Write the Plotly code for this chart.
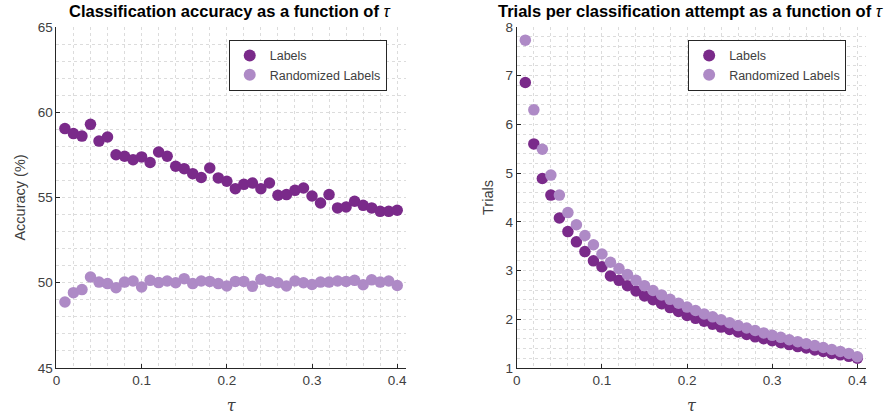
import plotly.graph_objects as go

tau = [round(0.01 * i, 2) for i in range(1, 41)]

acc_labels = [59.04, 58.75, 58.60, 59.29, 58.31, 58.55, 57.51, 57.42, 57.22, 57.38,
              57.05, 57.67, 57.42, 56.83, 56.69, 56.40, 56.17, 56.73, 56.15, 55.95,
              55.52, 55.77, 55.85, 55.52, 55.85, 55.13, 55.17, 55.42, 55.56, 55.09,
              54.68, 55.17, 54.39, 54.44, 54.78, 54.54, 54.39, 54.19, 54.19, 54.25]
acc_random = [48.87, 49.42, 49.60, 50.34, 50.04, 49.95, 49.71, 50.04, 50.10, 49.75,
              50.14, 50.01, 50.10, 50.00, 50.24, 49.95, 50.10, 50.08, 49.95, 49.81,
              50.08, 50.08, 49.79, 50.20, 50.08, 50.00, 49.81, 50.10, 50.00, 49.90,
              50.04, 50.04, 50.10, 50.08, 50.14, 49.89, 50.17, 50.04, 50.10, 49.84]

trials_labels = [6.86, 5.60, 4.89, 4.55, 4.08, 3.80, 3.59, 3.39, 3.20, 3.08,
                 2.89, 2.80, 2.69, 2.58, 2.48, 2.40, 2.32, 2.24, 2.16, 2.08,
                 2.02, 1.96, 1.90, 1.84, 1.79, 1.74, 1.69, 1.64, 1.60, 1.56,
                 1.52, 1.48, 1.44, 1.41, 1.37, 1.34, 1.30, 1.27, 1.24, 1.20]
trials_random = [7.73, 6.30, 5.49, 4.96, 4.55, 4.19, 3.94, 3.72, 3.53, 3.34,
                 3.17, 3.04, 2.92, 2.80, 2.69, 2.59, 2.50, 2.41, 2.33, 2.25,
                 2.18, 2.11, 2.05, 1.99, 1.93, 1.87, 1.82, 1.77, 1.72, 1.67,
                 1.63, 1.58, 1.54, 1.50, 1.46, 1.42, 1.38, 1.34, 1.30, 1.23]

names = ["Labels", "Randomized Labels"]
x_ticks = [0, 0.1, 0.2, 0.3, 0.4]
x_tick_text = ["0", "0.1", "0.2", "0.3", "0.4"]

DARK = "#7A2A8A"
LIGHT = "#AE8AC6"
FONT = "Liberation Sans, Arial, sans-serif"
TXT = "#404040"
GRID = "#dcdcdc"
AX = "#262626"
TAU = "<i>τ</i>"

fig = go.Figure()
fig.add_trace(go.Scatter(x=tau, y=acc_labels, mode="markers", name=names[0],
                         marker=dict(color=DARK, size=11.5), xaxis="x", yaxis="y", legend="legend"))
fig.add_trace(go.Scatter(x=tau, y=acc_random, mode="markers", name=names[1],
                         marker=dict(color=LIGHT, size=11.5), xaxis="x", yaxis="y", legend="legend"))
fig.add_trace(go.Scatter(x=tau, y=trials_labels, mode="markers", name=names[0],
                         marker=dict(color=DARK, size=11.5), xaxis="x2", yaxis="y2", legend="legend2"))
fig.add_trace(go.Scatter(x=tau, y=trials_random, mode="markers", name=names[1],
                         marker=dict(color=LIGHT, size=11.5), xaxis="x2", yaxis="y2", legend="legend2"))

def xax(domain, anchor):
    return dict(domain=domain, anchor=anchor, range=[0, 0.41], tickvals=x_ticks, ticktext=x_tick_text,
                showline=True, linecolor=AX, linewidth=1, ticks="inside", ticklen=4, tickcolor=AX,
                showgrid=True, gridcolor=GRID, griddash="dot", gridwidth=1, zeroline=False,
                minor=dict(dtick=0.02, tick0=0, showgrid=True, gridcolor=GRID, griddash="dot", gridwidth=1),
                tickfont=dict(size=13.5, color=TXT, family=FONT),
                title=dict(text=TAU, font=dict(size=16, color=TXT, family="DejaVu Serif, serif"), standoff=12))

def yax(rng, dtick, mdtick, anchor, title):
    return dict(domain=[0, 1], anchor=anchor, range=rng, dtick=dtick, tick0=rng[0],
                showline=True, linecolor=AX, linewidth=1, ticks="inside", ticklen=4, tickcolor=AX,
                showgrid=True, gridcolor=GRID, griddash="dot", gridwidth=1, zeroline=False,
                minor=dict(dtick=mdtick, showgrid=True, gridcolor=GRID, griddash="dot", gridwidth=1),
                tickfont=dict(size=13.5, color=TXT, family=FONT),
                title=dict(text=title, font=dict(size=14.5, color=TXT, family=FONT), standoff=8))

W, H = 892, 415
leg_common = dict(bgcolor="white", bordercolor="#262626", borderwidth=1,
                  font=dict(size=12.5, color=TXT, family=FONT), xanchor="left", yanchor="top",
                  itemsizing="constant", tracegroupgap=0)

fig.update_layout(
    width=W, height=H,
    margin=dict(l=0, r=0, t=27, b=47),
    paper_bgcolor="white", plot_bgcolor="white",
    font=dict(family=FONT, color=TXT),
    xaxis=xax([52.7 / W, 404 / W], "y"),
    yaxis=yax([45, 65], 5, 1, "x", "Accuracy (%)"),
    xaxis2=xax([515.7 / W, 866.7 / W], "y2"),
    yaxis2=yax([1, 8], 1, 0.2, "x2", "Trials"),
    legend=dict(x=226 / W, y=0.962, **leg_common),
    legend2=dict(x=688 / W, y=0.962, **leg_common),
    annotations=[
        dict(text="<b>Classification accuracy as a function of </b>" + TAU, x=228 / W,
             y=(368 - 11) / 341.0, xref="paper", yref="paper", showarrow=False,
             font=dict(size=16.5, color="black", family=FONT), xanchor="center", yanchor="middle"),
        dict(text="<b>Trials per classification attempt as a function of </b>" + TAU, x=691 / W,
             y=(368 - 11) / 341.0, xref="paper", yref="paper", showarrow=False,
             font=dict(size=16.5, color="black", family=FONT), xanchor="center", yanchor="middle"),
    ],
)

fig.write_html("out.html")
